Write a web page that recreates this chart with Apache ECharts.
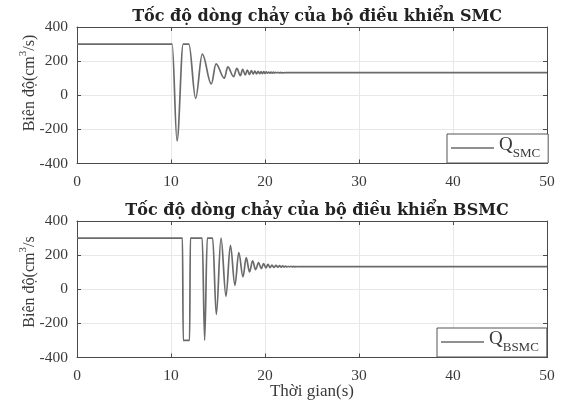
<!DOCTYPE html>
<html>
<head>
<meta charset="utf-8">
<script src="https://cdn.jsdelivr.net/npm/echarts@6/dist/echarts.min.js"></script>
<style>
html,body{margin:0;padding:0;background:#fff;}
#c{width:563px;height:403px;}
</style>
</head>
<body>
<div id="c"></div>
<script>
// ---- Data ----
const titleTop = 'Tốc độ dòng chảy của bộ điều khiển SMC';
const titleBottom = 'Tốc độ dòng chảy của bộ điều khiển BSMC';
const xTicks = [0, 10, 20, 30, 40, 50];
const yTicks = [-400, -200, 0, 200, 400];
const xLabel = 'Thời gian(s)';

// Q_SMC: [time (s), flow (cm^3/s)] at turning points
const qSMC = [
  [0,300],[10.12,300],[10.64,-267],[11.3,300],[11.9,300],[12.62,-18],[13.33,241],
  [14.29,66],[14.79,184],[15.67,100],[16.04,166],[16.66,109],[17.0,157],[17.38,115],
  [17.62,152],[17.9,119],[18.12,148],[18.35,122],[18.55,145],[18.75,124],[18.92,142],
  [19.1,125],[19.27,140],[19.43,126],[19.58,139],[19.73,127],[19.87,138],[20.0,128],
  [20.13,137],[20.26,129],[20.39,136],[20.52,129.5],[20.65,135.5],[20.78,130],[20.9,135],
  [21.02,130.5],[21.14,134.5],[21.26,131],[21.38,134],[21.5,131],[21.62,133.5],[21.74,131.5],
  [21.86,133],[21.98,131.5],[22.1,133],[22.22,131.8],[22.34,132.6],[22.6,132.2],[50,132.2]
];

// Q_BSMC: [time (s), flow (cm^3/s)] at turning points
const qBSMC = [
  [0,300],[11.22,300],[11.3,-300],[11.98,-300],[12.06,300],[13.32,300],[13.58,-300],
  [13.86,300],[14.43,300],[14.82,-148],[15.32,300],[15.85,-41],[16.32,258],[16.8,23],
  [17.21,215],[17.66,72],[18.0,186],[18.36,101],[18.68,166],[19.0,115],[19.32,156],
  [19.6,121],[19.85,150],[20.1,125],[20.32,146],[20.53,127],[20.74,142],[20.96,128],
  [21.17,140],[21.36,129],[21.55,138],[21.72,130],[21.87,137],[22.03,130.5],[22.18,135.5],
  [22.33,131],[22.48,134.5],[22.62,131.2],[22.76,134],[22.9,131.5],[23.04,133.5],
  [23.18,131.7],[23.32,133],[23.46,131.8],[23.6,132.8],[23.8,132.2],[50,132.2]
];

// ---- Styling ----
const SERIF = '"Liberation Serif","DejaVu Serif",serif';
const TSERIF = '"DejaVu Serif","Liberation Serif",serif';
const LINE = '#6b6b6b';
const AX = '#4a4a4a';
const TXT = '#3a3a3a';
const GRIDC = '#e8e8e8';

const grids = [
  {left: 77, width: 470, top: 27, height: 136.5},
  {left: 77, width: 470, top: 221, height: 136.5}
];

function mainX(gi) {
  return {
    type: 'value', gridIndex: gi, min: xTicks[0], max: xTicks[xTicks.length-1], interval: 10,
    axisLine: {show: true, onZero: false, lineStyle: {color: AX, width: 1}},
    axisTick: {show: true, inside: true, length: 4, lineStyle: {color: AX}},
    axisLabel: {color: TXT, fontFamily: SERIF, fontSize: 15.5, margin: 10},
    splitLine: {show: true, lineStyle: {color: GRIDC, width: 1}}
  };
}
function mainY(gi) {
  return {
    type: 'value', gridIndex: gi, min: yTicks[0], max: yTicks[yTicks.length-1], interval: 200,
    axisLine: {show: true, onZero: false, lineStyle: {color: AX, width: 1}},
    axisTick: {show: true, inside: true, length: 4, lineStyle: {color: AX}},
    axisLabel: {color: TXT, fontFamily: SERIF, fontSize: 15.5, margin: 9},
    splitLine: {show: true, lineStyle: {color: GRIDC, width: 1}}
  };
}
function boxX(gi) {
  return {
    type: 'value', gridIndex: gi, position: 'top', min: 0, max: 50, interval: 10,
    axisLine: {show: true, onZero: false, lineStyle: {color: AX, width: 1}},
    axisTick: {show: true, inside: true, length: 4, lineStyle: {color: AX}},
    axisLabel: {show: false}, splitLine: {show: false}
  };
}
function boxY(gi) {
  return {
    type: 'value', gridIndex: gi, position: 'right', min: -400, max: 400, interval: 200,
    axisLine: {show: true, onZero: false, lineStyle: {color: AX, width: 1}},
    axisTick: {show: true, inside: true, length: 4, lineStyle: {color: AX}},
    axisLabel: {show: false}, splitLine: {show: false}
  };
}

const legendRich = {
  q: {fontFamily: SERIF, fontSize: 19, lineHeight: 24, verticalAlign: 'top', color: TXT},
  s: {fontFamily: SERIF, fontSize: 13, lineHeight: 12, verticalAlign: 'bottom', color: TXT}
};
function legend(name, left, top, padRight) {
  return {
    data: [name], left: left, top: top, orient: 'horizontal',
    backgroundColor: '#fff', borderColor: '#555', borderWidth: 1, borderRadius: 0,
    padding: [2, padRight, 3, 4], icon: 'rect', itemWidth: 43, itemHeight: 1.5,
    formatter: n => '{q|Q}{s|' + n + '}',
    textStyle: {rich: legendRich}, selectedMode: false
  };
}

const ylabRich = {
  a: {fontFamily: SERIF, fontSize: 16, fill: TXT, lineHeight: 20, verticalAlign: 'bottom'},
  b: {fontFamily: SERIF, fontSize: 11, fill: TXT, lineHeight: 20, verticalAlign: 'top'}
};

const option = {
  animation: false,
  backgroundColor: '#fff',
  title: [
    {text: titleTop, left: 312, top: 4, textAlign: 'center',
     textStyle: {fontFamily: TSERIF, fontWeight: 'bold', fontSize: 16, color: '#222'}},
    {text: titleBottom, left: 312, top: 198, textAlign: 'center',
     textStyle: {fontFamily: TSERIF, fontWeight: 'bold', fontSize: 16, color: '#222'}}
  ],
  grid: grids,
  xAxis: [mainX(0), mainX(1), boxX(0), boxX(1)],
  yAxis: [mainY(0), mainY(1), boxY(0), boxY(1)],
  legend: [legend('SMC', 447, 134, 8), legend('BSMC', 437, 328, 8)],
  graphic: [
    {type: 'text', x: 28, y: 83, rotation: Math.PI/2,
     style: {text: '{a|Biên độ(cm}{b|3}{a|/s)}', rich: ylabRich, align: 'center', verticalAlign: 'middle'}},
    {type: 'text', x: 28, y: 282, rotation: Math.PI/2,
     style: {text: '{a|Biên độ(cm}{b|3}{a|/s}', rich: ylabRich, align: 'center', verticalAlign: 'middle'}},
    {type: 'text', x: 312, y: 392,
     style: {text: xLabel, font: '17px ' + SERIF, fill: TXT, align: 'center', verticalAlign: 'middle'}}
  ],
  series: [
    {name: 'SMC', type: 'line', xAxisIndex: 0, yAxisIndex: 0, data: qSMC,
     showSymbol: false, smooth: 0.36, smoothMonotone: 'x',
     lineStyle: {color: LINE, width: 1.7}, itemStyle: {color: LINE}},
    {name: 'BSMC', type: 'line', xAxisIndex: 1, yAxisIndex: 1, data: qBSMC,
     showSymbol: false, smooth: 0.36, smoothMonotone: 'x',
     lineStyle: {color: LINE, width: 1.7}, itemStyle: {color: LINE}}
  ]
};

const chart = echarts.init(document.getElementById('c'), null, {renderer: 'canvas'});
chart.setOption(option);
</script>
</body>
</html>
